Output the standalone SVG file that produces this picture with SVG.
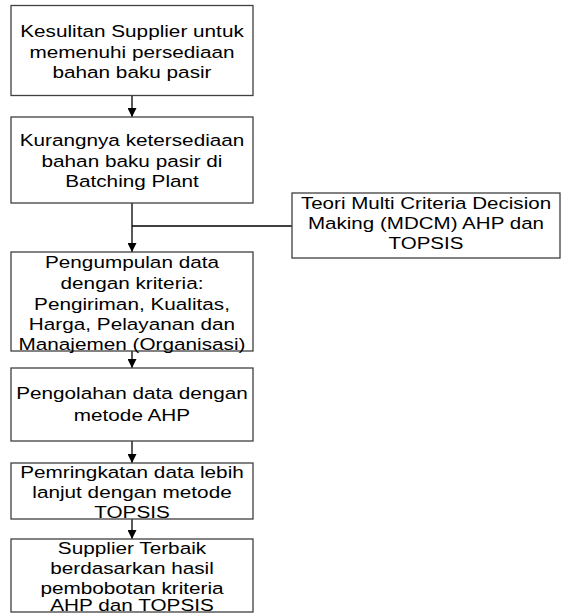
<svg xmlns="http://www.w3.org/2000/svg" width="561" height="615" viewBox="0 0 561 615">
<defs>
<marker id="ah" viewBox="0 0 10 10" refX="10" refY="5" markerWidth="9" markerHeight="9" markerUnits="userSpaceOnUse" orient="auto">
<path d="M0,0 L10,5 L0,10 Z" fill="#000"/>
</marker>
</defs>
<style>
.box{fill:#fff;stroke:#404040;stroke-width:1.3}
.t{font-family:"Liberation Sans",Arial,sans-serif;font-size:17px;fill:#000;text-anchor:middle}
.c{fill:none;stroke:#000;stroke-width:1.3}
</style>
<rect width="561" height="615" fill="#fff"/>
<g id="connectors">
<line class="c" x1="132" y1="95.5" x2="132" y2="117" marker-end="url(#ah)"/>
<line class="c" x1="132" y1="203" x2="132" y2="252" marker-end="url(#ah)"/>
<line class="c" x1="292" y1="226" x2="132" y2="226"/>
<line class="c" x1="132" y1="351" x2="132" y2="368" marker-end="url(#ah)"/>
<line class="c" x1="132" y1="441" x2="132" y2="463" marker-end="url(#ah)"/>
<line class="c" x1="132" y1="519" x2="132" y2="539" marker-end="url(#ah)"/>
</g>
<g id="n1">
<rect class="box" x="11" y="5.5" width="242" height="90"/>
<g transform="translate(132,0) scale(1.22,1) translate(-132,0)">
<text class="t" x="132" y="37">Kesulitan Supplier untuk</text>
<text class="t" x="132" y="58">memenuhi persediaan</text>
<text class="t" x="132" y="78">bahan baku pasir</text>
</g>
</g>
<g id="n2">
<rect class="box" x="11" y="117" width="242" height="86"/>
<g transform="translate(132,0) scale(1.22,1) translate(-132,0)">
<text class="t" x="132" y="146">Kurangnya ketersediaan</text>
<text class="t" x="132" y="167">bahan baku pasir di</text>
<text class="t" x="132" y="187">Batching Plant</text>
</g>
</g>
<g id="n7">
<rect class="box" x="292" y="193" width="268" height="65"/>
<g transform="translate(426,0) scale(1.21,1) translate(-426,0)">
<text class="t" x="426" y="209">Teori Multi Criteria Decision</text>
<text class="t" x="426" y="229">Making (MDCM) AHP dan</text>
<text class="t" x="426" y="249">TOPSIS</text>
</g>
</g>
<g id="n3">
<rect class="box" x="11" y="252" width="242" height="99"/>
<g transform="translate(132,0) scale(1.22,1) translate(-132,0)">
<text class="t" x="132" y="268">Pengumpulan data</text>
<text class="t" x="132" y="289">dengan kriteria:</text>
<text class="t" x="132" y="310">Pengiriman, Kualitas,</text>
<text class="t" x="132" y="330">Harga, Pelayanan dan</text>
<text class="t" x="132" y="350">Manajemen (Organisasi)</text>
</g>
</g>
<g id="n4">
<rect class="box" x="11" y="368" width="242" height="73"/>
<g transform="translate(132,0) scale(1.22,1) translate(-132,0)">
<text class="t" x="132" y="399">Pengolahan data dengan</text>
<text class="t" x="132" y="421">metode AHP</text>
</g>
</g>
<g id="n5">
<rect class="box" x="11" y="463" width="242" height="56"/>
<g transform="translate(132,0) scale(1.22,1) translate(-132,0)">
<text class="t" x="132" y="478">Pemringkatan data lebih</text>
<text class="t" x="132" y="498">lanjut dengan metode</text>
<text class="t" x="132" y="518">TOPSIS</text>
</g>
</g>
<g id="n6">
<rect class="box" x="11" y="539" width="242" height="73"/>
<g transform="translate(132,0) scale(1.22,1) translate(-132,0)">
<text class="t" x="132" y="554">Supplier Terbaik</text>
<text class="t" x="132" y="574">berdasarkan hasil</text>
<text class="t" x="132" y="594">pembobotan kriteria</text>
<text class="t" x="132" y="611">AHP dan TOPSIS</text>
</g>
</g>
</svg>
